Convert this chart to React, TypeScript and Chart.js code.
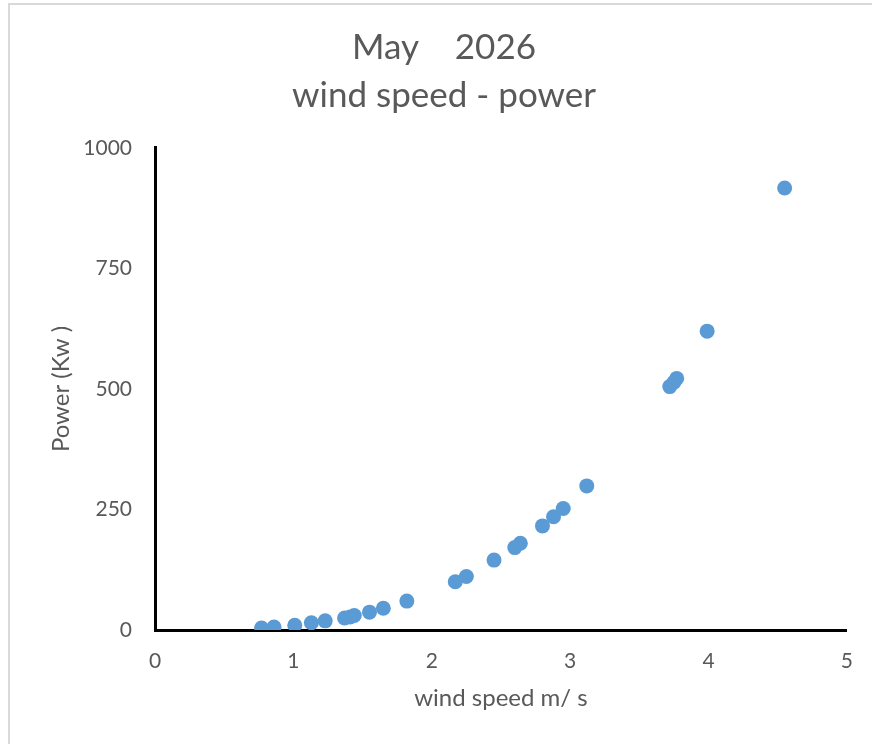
import React, { useEffect, useRef } from "react";
import { Chart, registerables } from "chart.js";
Chart.register(...registerables);

const windSpeed = [0.77, 0.86, 1.01, 1.13, 1.23, 1.37, 1.41, 1.44, 1.55, 1.65, 1.82, 2.17, 2.25, 2.45, 2.6, 2.64, 2.8, 2.88, 2.95, 3.12, 3.72, 3.75, 3.77, 3.99, 4.55];
const power = [4, 6, 10, 15, 19, 25, 27, 30, 37, 45, 60, 100, 111, 145, 171, 180, 216, 235, 252, 299, 505, 514, 522, 620, 917];
const titleLines = ["May    2026", "wind speed - power"];
const xTitle = "wind speed m/ s";
const yTitle = "Power (Kw )";
const xMin = 0, xMax = 5, xStep = 1;
const yMin = 0, yMax = 1000, yStep = 250;

const FONT = "Lato, 'Open Sans', sans-serif";
const GREY = "#595959";

export default function App() {
  const ref = useRef<HTMLCanvasElement | null>(null);
  useEffect(() => {
    if (!ref.current) return;
    const chart = new Chart(ref.current, {
      type: "scatter",
      data: {
        datasets: [
          {
            label: "power",
            data: windSpeed.map((x, i) => ({ x, y: power[i] })),
            backgroundColor: "#5B9BD5",
            borderWidth: 0,
            pointRadius: 7.5,
            pointHoverRadius: 7.5,
          },
        ],
      },
      options: {
        responsive: false,
        animation: false,
        layout: { padding: { left: 40, right: 24, top: 0, bottom: 0 } },
        plugins: {
          legend: { display: false },
          tooltip: { enabled: false },
          title: {
            display: true,
            text: titleLines,
            color: GREY,
            font: { family: FONT, size: 35, weight: "normal", lineHeight: 1.3714 },
            padding: { top: 24, bottom: 28 },
          },
        },
        scales: {
          x: {
            type: "linear",
            min: xMin,
            max: xMax,
            grid: { display: false, drawTicks: false },
            border: { display: true, color: "#000", width: 3 },
            ticks: {
              stepSize: xStep,
              color: GREY,
              padding: 19,
              font: { family: FONT, size: 21 },
              callback: (v: any) => String(v),
            },
            title: {
              display: true,
              text: xTitle,
              color: GREY,
              font: { family: FONT, size: 24 },
              padding: { top: 0, bottom: 31 },
            },
            afterFit: (s: any) => {
              s.height = 744 - 630;
            },
          },
          y: {
            type: "linear",
            min: yMin,
            max: yMax,
            grid: { display: false, drawTicks: false },
            border: { display: true, color: "#000", width: 3 },
            ticks: {
              stepSize: yStep,
              color: GREY,
              padding: 23,
              font: { family: FONT, size: 21 },
              callback: (v: any) => String(v),
            },
            title: {
              display: true,
              text: yTitle,
              color: GREY,
              font: { family: FONT, size: 24 },
              padding: { top: 7, bottom: 0 },
            },
            afterFit: (s: any) => {
              s.width = 115;
            },
          },
        },
      },
    });
    return () => chart.destroy();
  }, []);
  return (
    <div style={{ position: "fixed", left: 0, top: 0, width: 872, height: 744, background: "#fff", overflow: "hidden" }}>
      <canvas ref={ref} width={872} height={744} style={{ position: "absolute", left: 0, top: 0, width: 872, height: 744 }} />
      <div style={{ position: "absolute", left: 8, top: 3, width: 870, height: 745, borderLeft: "2px solid #d9d9d9", borderTop: "2px solid #d9d9d9", pointerEvents: "none" }} />
    </div>
  );
}
